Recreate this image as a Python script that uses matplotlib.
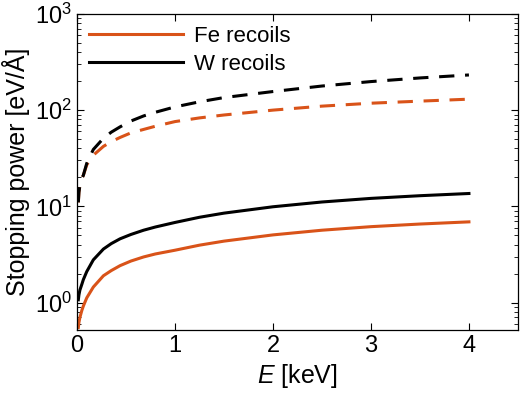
import matplotlib
matplotlib.use('Agg')
import matplotlib.pyplot as plt
from matplotlib.ticker import LogLocator, NullFormatter

plt.rcParams['font.family'] = ['Liberation Sans', 'DejaVu Sans']
plt.rcParams['mathtext.fontset'] = 'custom'
plt.rcParams['mathtext.rm'] = 'Liberation Sans'
plt.rcParams['mathtext.it'] = 'Liberation Sans:italic'

# energies in keV
E = [0.014, 0.02, 0.03, 0.05, 0.065, 0.1, 0.167, 0.27, 0.35, 0.44, 0.55, 0.68,
     0.8, 1.0, 1.25, 1.5, 2.0, 2.5, 3.0, 3.5, 4.0]

# electronic stopping (solid)
fe_el = [0.55, 0.62, 0.7, 0.83, 0.92, 1.12, 1.45, 1.9, 2.15, 2.42, 2.7, 2.98,
         3.2, 3.5, 3.95, 4.35, 5.05, 5.65, 6.15, 6.55, 6.9]
w_el = [1.07, 1.2, 1.35, 1.55, 1.73, 2.1, 2.78, 3.6, 4.1, 4.6, 5.1, 5.65,
        6.1, 6.8, 7.7, 8.5, 9.9, 11.1, 12.1, 12.9, 13.6]

# nuclear stopping (dashed)
fe_nu = [11, 14, 16.5, 19.5, 21, 27, 34, 42, 47, 52, 58, 63,
         68, 76, 83, 89, 100, 110, 118, 124, 130]
w_nu = [11, 14, 16.5, 19.5, 21, 28, 39, 51, 59, 67, 77, 87,
        95, 108, 122, 135, 156, 178, 198, 216, 232]

orange = '#D95319'

fig, ax = plt.subplots(figsize=(5.2, 3.97), dpi=100)
fig.subplots_adjust(left=0.148, right=0.996, top=0.965, bottom=0.169)

ax.plot(E, fe_el, color=orange, lw=2.2, label='Fe recoils')
ax.plot(E, w_el, color='black', lw=2.2, label='W recoils')
ax.plot(E, fe_nu, color=orange, lw=2.2, ls=(0, (5, 3.5)))
ax.plot(E, w_nu, color='black', lw=2.2, ls=(0, (5, 3.5)))

ax.set_yscale('log')
ax.set_xlim(0, 4.5)
ax.set_ylim(0.52, 1000)
ax.set_xticks([0, 1, 2, 3, 4])
ax.yaxis.set_major_locator(LogLocator(base=10, numticks=10))
ax.yaxis.set_minor_locator(LogLocator(base=10, subs=range(2, 10), numticks=10))
ax.yaxis.set_minor_formatter(NullFormatter())

ax.tick_params(which='both', direction='in', top=True, right=True, labelsize=17)
ax.tick_params(which='major', length=5, width=0.8)
ax.tick_params(which='minor', length=3, width=0.6)
for s in ax.spines.values():
    s.set_linewidth(0.9)

ax.set_xlabel('$E$ [keV]', fontsize=18)
ax.set_ylabel('Stopping power [eV/Å]', fontsize=18)

ax.legend(loc='upper left', frameon=False, fontsize=16, handlelength=4.2,
          borderaxespad=0.15, labelspacing=0.3, handletextpad=0.5)

fig.savefig('out.png', dpi=100)
